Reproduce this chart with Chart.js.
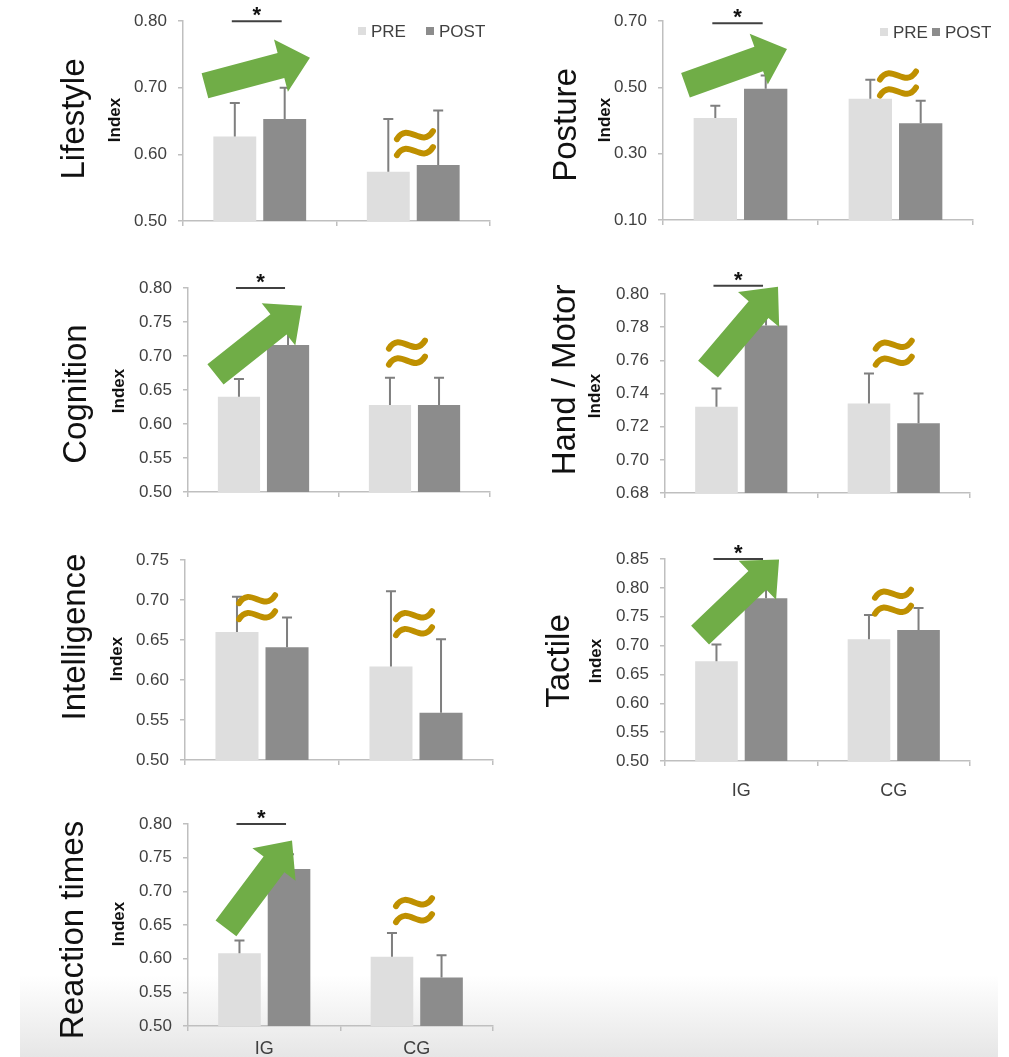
<!DOCTYPE html>
<html>
<head>
<meta charset="utf-8">
<script src="https://cdn.jsdelivr.net/npm/chart.js@4.4.1/dist/chart.umd.min.js"></script>
<style>
  body { margin: 0; background: #fff; }
  #page { position: relative; width: 1009px; height: 1057px; overflow: hidden; background: #fff; }
  #shade { position: absolute; left: 20px; top: 975px; width: 978px; height: 82px;
           background: linear-gradient(#ffffff, #e6e6e6); }
  canvas { position: absolute; left: 0; top: 0; }
</style>
</head>
<body>
<div id="page">
  <div id="shade"></div>
  <canvas id="lifestyle" width="1009" height="1057"></canvas>
  <canvas id="posture" width="1009" height="1057"></canvas>
  <canvas id="cognition" width="1009" height="1057"></canvas>
  <canvas id="hand" width="1009" height="1057"></canvas>
  <canvas id="intelligence" width="1009" height="1057"></canvas>
  <canvas id="tactile" width="1009" height="1057"></canvas>
  <canvas id="reaction" width="1009" height="1057"></canvas>
</div>
<script>
// groups on the x axis, two series per group
const groups = ['IG', 'CG'];
const seriesNames = ['PRE', 'POST'];

// mean index and upper SD, [IG, CG]
const lifestylePre = [0.627, 0.574];
const lifestylePreSd = [0.050, 0.079];
const lifestylePost = [0.653, 0.584];
const lifestylePostSd = [0.047, 0.082];

const posturePre = [0.408, 0.466];
const posturePreSd = [0.037, 0.057];
const posturePost = [0.496, 0.392];
const posturePostSd = [0.040, 0.068];

const cognitionPre = [0.640, 0.628];
const cognitionPreSd = [0.026, 0.040];
const cognitionPost = [0.716, 0.628];
const cognitionPostSd = [0.028, 0.040];

const handPre = [0.732, 0.734];
const handPreSd = [0.011, 0.018];
const handPost = [0.781, 0.722];
const handPostSd = [0.006, 0.018];

const intelligencePre = [0.660, 0.617];
const intelligencePreSd = [0.044, 0.094];
const intelligencePost = [0.641, 0.559];
const intelligencePostSd = [0.037, 0.092];

const tactilePre = [0.673, 0.711];
const tactilePreSd = [0.029, 0.042];
const tactilePost = [0.782, 0.727];
const tactilePostSd = [0.028, 0.038];

const reactionPre = [0.608, 0.603];
const reactionPreSd = [0.019, 0.035];
const reactionPost = [0.733, 0.572];
const reactionPostSd = [0.022, 0.033];

const W = 1009, H = 1057;
const Y_AXIS_W = 80, X_AXIS_H = 50;
const PRE_COLOR = '#dedede', POST_COLOR = '#8c8c8c';
const AXIS_COLOR = '#bfbfbf', TEXT_COLOR = '#404040';
const GREEN = '#70ad47', GOLD = '#bf9000';
const FONT = '"Liberation Sans", Arial, sans-serif';

// panel layout and the annotations (arrow / ≈ positions are in data units: category index, value)
const panels = [
  { id: 'lifestyle', title: 'Lifestyle', pre: lifestylePre, preSd: lifestylePreSd, post: lifestylePost, postSd: lifestylePostSd,
    min: 0.5, max: 0.8, step: 0.1, area: [183, 490, 18, 221], titlePos: [75, 119], indexPos: [115, 120],
    star: 0.80, arrow: [[-0.357, 0.703], [0.327, 0.745]], approx: [[1.011, 0.617]],
    legend: { x: 358, y: 32, gap: 68 } },
  { id: 'posture', title: 'Posture', pre: posturePre, preSd: posturePreSd, post: posturePost, postSd: posturePostSd,
    min: 0.1, max: 0.7, step: 0.2, area: [663, 973, 19, 220], titlePos: [567, 125], indexPos: [605, 120],
    star: 0.694, arrow: [[-0.355, 0.507], [0.300, 0.616]], approx: [[1.016, 0.512]],
    legend: { x: 880, y: 33, gap: 52 } },
  { id: 'cognition', title: 'Cognition', pre: cognitionPre, preSd: cognitionPreSd, post: cognitionPost, postSd: cognitionPostSd,
    min: 0.5, max: 0.8, step: 0.05, area: [188, 490, 288, 492], titlePos: [77, 394], indexPos: [119, 391],
    star: 0.80, arrow: [[-0.318, 0.673], [0.255, 0.774]], approx: [[0.95, 0.705]] },
  { id: 'hand', title: 'Hand / Motor', pre: handPre, preSd: handPreSd, post: handPost, postSd: handPostSd,
    min: 0.68, max: 0.80, step: 0.02, area: [665, 970, 294, 493], titlePos: [566, 380], indexPos: [595, 396],
    star: 0.805, arrow: [[-0.218, 0.7547], [0.241, 0.8044]], approx: [[1.0, 0.7646]] },
  { id: 'intelligence', title: 'Intelligence', pre: intelligencePre, preSd: intelligencePreSd, post: intelligencePost, postSd: intelligencePostSd,
    min: 0.5, max: 0.75, step: 0.05, area: [185, 493, 560, 760], titlePos: [76, 637], indexPos: [117, 659],
    star: null, arrow: null, approx: [[-0.032, 0.691], [0.987, 0.671]] },
  { id: 'tactile', title: 'Tactile', pre: tactilePre, preSd: tactilePreSd, post: tactilePost, postSd: tactilePostSd,
    min: 0.5, max: 0.85, step: 0.05, area: [665, 970, 559, 761], titlePos: [560, 661], indexPos: [596, 661],
    star: 0.85, arrow: [[-0.27, 0.718], [0.248, 0.849]], approx: [[0.995, 0.776]], labels: true, labelPad: 14 },
  { id: 'reaction', title: 'Reaction times', pre: reactionPre, preSd: reactionPreSd, post: reactionPost, postSd: reactionPostSd,
    min: 0.5, max: 0.8, step: 0.05, area: [188, 493, 824, 1026], titlePos: [74, 930], indexPos: [119, 924],
    star: 0.80, arrow: [[-0.251, 0.645], [0.182, 0.7756]], approx: [[0.982, 0.672]], labels: true, labelPad: 7 }
];

function drawArrow(ctx, tx, ty, px, py) {
  const len = Math.hypot(px - tx, py - ty);
  const ux = (px - tx) / len, uy = (py - ty) / len;
  const nx = -uy, ny = ux;
  const sw = 13, hw = 27, hl = 30;
  const bx = px - ux * hl, by = py - uy * hl;
  ctx.beginPath();
  ctx.moveTo(tx + nx * sw, ty + ny * sw);
  ctx.lineTo(bx + nx * sw, by + ny * sw);
  ctx.lineTo(bx + nx * hw, by + ny * hw);
  ctx.lineTo(px, py);
  ctx.lineTo(bx - nx * hw, by - ny * hw);
  ctx.lineTo(bx - nx * sw, by - ny * sw);
  ctx.lineTo(tx - nx * sw, ty - ny * sw);
  ctx.closePath();
  ctx.fillStyle = GREEN;
  ctx.fill();
}

function drawApprox(ctx, cx, cy) {
  ctx.strokeStyle = GOLD;
  ctx.lineWidth = 6;
  ctx.lineCap = 'round';
  [-8, 8].forEach(dy => {
    ctx.beginPath();
    ctx.moveTo(cx - 18, cy + dy + 4);
    ctx.bezierCurveTo(cx - 7, cy + dy - 14, cx + 7, cy + dy + 14, cx + 18, cy + dy - 4);
    ctx.stroke();
  });
}

function decorations(p) {
  return {
    id: 'decorations',
    afterDatasetsDraw(chart) {
      const ctx = chart.ctx, xs = chart.scales.x, ys = chart.scales.y;
      ctx.save();
      // upper error bars
      ctx.strokeStyle = '#7f7f7f';
      ctx.lineWidth = 2;
      chart.data.datasets.forEach((ds, i) => {
        chart.getDatasetMeta(i).data.forEach((bar, j) => {
          const top = ys.getPixelForValue(ds.data[j] + ds.sd[j]);
          ctx.beginPath();
          ctx.moveTo(bar.x, bar.y);
          ctx.lineTo(bar.x, top);
          ctx.moveTo(bar.x - 5, top);
          ctx.lineTo(bar.x + 5, top);
          ctx.stroke();
        });
      });
      // significance bar over IG
      if (p.star !== null) {
        const a = chart.getDatasetMeta(0).data[0].x - 3;
        const b = chart.getDatasetMeta(1).data[0].x - 3;
        const sy = ys.getPixelForValue(p.star);
        ctx.strokeStyle = '#404040';
        ctx.beginPath();
        ctx.moveTo(a, sy);
        ctx.lineTo(b, sy);
        ctx.stroke();
        ctx.fillStyle = '#111';
        ctx.font = 'bold 22px ' + FONT;
        ctx.textAlign = 'center';
        ctx.textBaseline = 'alphabetic';
        ctx.fillText('*', (a + b) / 2, sy + 1);
      }
      if (p.arrow) {
        const [t, h] = p.arrow;
        drawArrow(ctx, xs.getPixelForValue(t[0]), ys.getPixelForValue(t[1]),
                  xs.getPixelForValue(h[0]), ys.getPixelForValue(h[1]));
      }
      p.approx.forEach(([cx, cy]) => drawApprox(ctx, xs.getPixelForValue(cx), ys.getPixelForValue(cy)));

      // titles
      ctx.fillStyle = '#111';
      ctx.textAlign = 'center';
      ctx.textBaseline = 'middle';
      ctx.save();
      ctx.translate(p.titlePos[0], p.titlePos[1]);
      ctx.rotate(-Math.PI / 2);
      ctx.font = '33px ' + FONT;
      ctx.fillText(p.title, 0, 0);
      ctx.restore();
      ctx.save();
      ctx.translate(p.indexPos[0], p.indexPos[1]);
      ctx.rotate(-Math.PI / 2);
      ctx.font = 'bold 17px ' + FONT;
      ctx.fillText('Index', 0, 0);
      ctx.restore();

      // legend
      if (p.legend) {
        ctx.font = '17px ' + FONT;
        ctx.textAlign = 'left';
        let lx = p.legend.x;
        chart.data.datasets.forEach(ds => {
          ctx.fillStyle = ds.backgroundColor;
          ctx.fillRect(lx, p.legend.y - 5, 8, 8);
          ctx.fillStyle = TEXT_COLOR;
          ctx.fillText(ds.label, lx + 13, p.legend.y);
          lx += p.legend.gap;
        });
      }
      ctx.restore();
    }
  };
}

panels.forEach(p => {
  const [x0, x1, y0, y1] = p.area;
  new Chart(document.getElementById(p.id), {
    type: 'bar',
    data: {
      labels: groups,
      datasets: [
        { label: seriesNames[0], data: p.pre, sd: p.preSd, backgroundColor: PRE_COLOR,
          categoryPercentage: 0.65, barPercentage: 0.86 },
        { label: seriesNames[1], data: p.post, sd: p.postSd, backgroundColor: POST_COLOR,
          categoryPercentage: 0.65, barPercentage: 0.86 }
      ]
    },
    options: {
      responsive: false,
      animation: false,
      devicePixelRatio: 1,
      layout: { padding: { left: x0 - Y_AXIS_W, top: y0, right: W - x1, bottom: H - y1 - X_AXIS_H } },
      plugins: { legend: { display: false }, tooltip: { enabled: false } },
      scales: {
        x: {
          grid: { display: true, drawOnChartArea: false, drawTicks: true, tickLength: 5, color: AXIS_COLOR, lineWidth: 1.5 },
          border: { color: AXIS_COLOR, width: 1.5 },
          ticks: { display: !!p.labels, padding: p.labelPad || 0, color: TEXT_COLOR, font: { family: FONT, size: 18 } },
          afterFit: s => { s.height = X_AXIS_H; }
        },
        y: {
          min: p.min,
          max: p.max,
          grid: { display: true, drawOnChartArea: false, drawTicks: true, tickLength: 5, color: AXIS_COLOR, lineWidth: 1.5 },
          border: { color: AXIS_COLOR, width: 1.5 },
          ticks: { stepSize: p.step, padding: 11, color: TEXT_COLOR, font: { family: FONT, size: 17 },
                   callback: v => v.toFixed(2) },
          afterFit: s => { s.width = Y_AXIS_W; }
        }
      }
    },
    plugins: [decorations(p)]
  });
});
</script>
</body>
</html>
